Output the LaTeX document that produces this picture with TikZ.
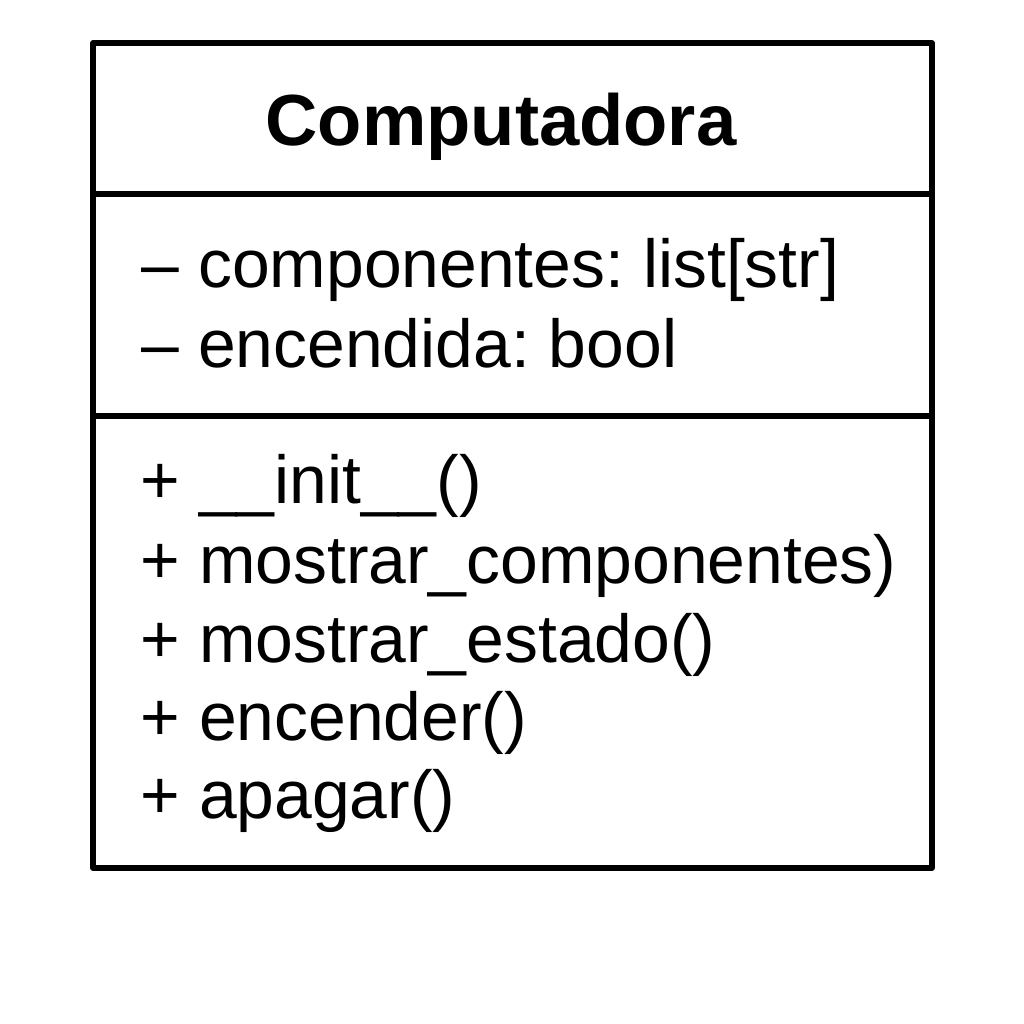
\documentclass[tikz,border=0pt]{standalone}
\usepackage{fontspec}
\setmainfont{Liberation Sans}
\frenchspacing
\tikzset{
  classbox/.style={line width=1.45pt,line join=round},
  title/.style={anchor=base,inner sep=0pt,font=\fontsize{20.6}{24}\selectfont\bfseries},
  member/.style={anchor=base west,inner sep=0pt,font=\fontsize{19.3}{23}\selectfont}
}
\begin{document}
\begin{tikzpicture}
        \fill[white](0,0)rectangle(10.24,-10.24);
        \useasboundingbox(0,0)rectangle(10.24,-10.24);
        \coordinate(tl)at(.93,-.43);
        \coordinate(br)at(9.32,-8.68);
        \coordinate(a1)at(.93,-1.94);
        \coordinate(a2)at(9.32,-1.94);
        \coordinate(m1)at(.93,-4.16);
        \coordinate(m2)at(9.32,-4.16);
        \draw[classbox](tl)rectangle(br);
        \draw[classbox](a1)--(a2);
        \draw[classbox](m1)--(m2);
        \node[title](name)at(5.01,-1.45){Computadora};
        \node[member](comp)at(1.41,-2.87){– componentes: list[str]};
        \node[member](enc)at(1.41,-3.67){– encendida: bool};
        \node[member](init)at(1.40,-5.03){+ \_\_init\_\_()};
        \node[member](mcomp)at(1.40,-5.83){+ mostrar\_componentes)};
        \node[member](mest)at(1.40,-6.62){+ mostrar\_estado()};
        \node[member](on)at(1.40,-7.40){+ encender()};
        \node[member](off)at(1.40,-8.18){+ apagar()};
    \end{tikzpicture}
\end{document}
